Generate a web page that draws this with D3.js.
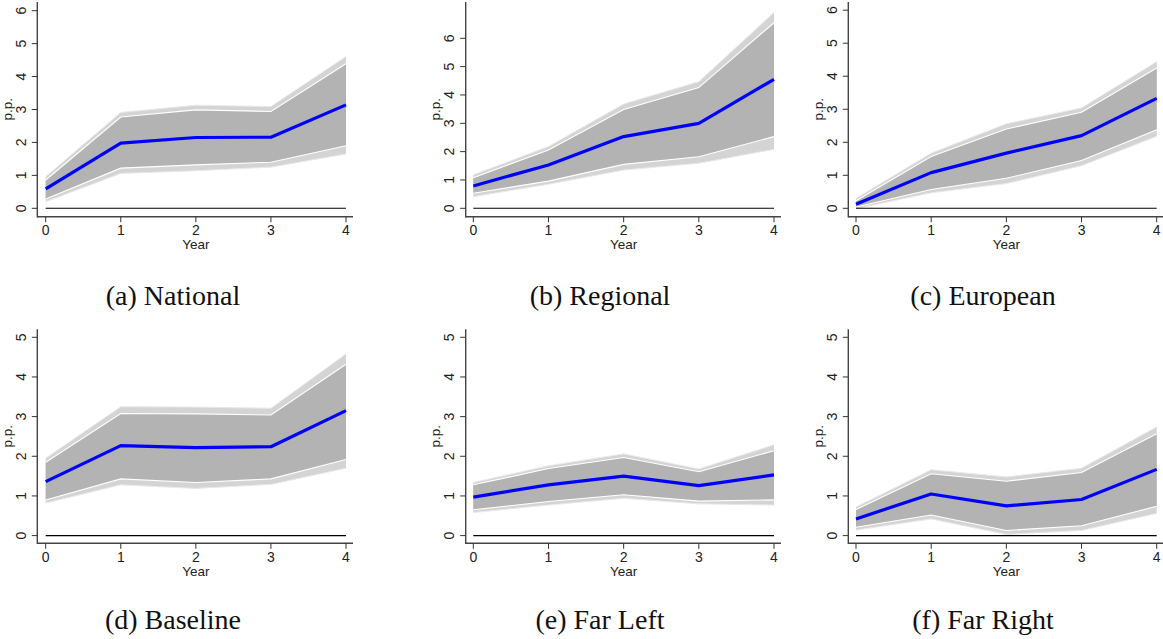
<!DOCTYPE html>
<html>
<head>
<meta charset="utf-8">
<script src="https://cdn.jsdelivr.net/npm/d3@7"></script>
<style>
  html, body { margin: 0; padding: 0; background: #fff; }
  svg { display: block; }
  .tick-label { font-family: "Liberation Sans", Arial, sans-serif; font-size: 14px; fill: #222; }
  .axis-title { font-family: "Liberation Sans", Arial, sans-serif; font-size: 13.5px; fill: #222; }
  .caption { font-family: "Liberation Serif", "Times New Roman", serif; font-size: 28px; fill: #111; }
</style>
</head>
<body>
<svg id="chart" width="1163" height="639"></svg>
<script>
// Horizon (years after the event)
const years = [0, 1, 2, 3, 4];

// Panel titles
const captions = ["(a) National", "(b) Regional", "(c) European", "(d) Baseline", "(e) Far Left", "(f) Far Right"];

// Y tick labels per panel
const yTicksTop6 = [0, 1, 2, 3, 4, 5, 6];
const yTicksBottom5 = [0, 1, 2, 3, 4, 5];

// (a) National: point estimate, inner band, outer band (p.p.)
const nationalMean    = [0.59, 1.98, 2.15, 2.16, 3.14];
const nationalInnerLo = [0.28, 1.22, 1.32, 1.40, 1.90];
const nationalInnerHi = [0.86, 2.77, 2.99, 2.94, 4.39];
const nationalOuterLo = [0.20, 1.06, 1.14, 1.25, 1.65];
const nationalOuterHi = [0.96, 2.91, 3.13, 3.09, 4.61];

// (b) Regional
const regionalMean    = [0.79, 1.53, 2.53, 3.00, 4.55];
const regionalInnerLo = [0.53, 0.96, 1.55, 1.82, 2.53];
const regionalInnerHi = [1.08, 2.06, 3.49, 4.26, 6.55];
const regionalOuterLo = [0.41, 0.85, 1.35, 1.59, 2.08];
const regionalOuterHi = [1.18, 2.18, 3.68, 4.47, 6.91];

// (c) European
const europeanMean    = [0.12, 1.08, 1.67, 2.20, 3.33];
const europeanInnerLo = [0.04, 0.57, 0.91, 1.45, 2.38];
const europeanInnerHi = [0.23, 1.57, 2.40, 2.91, 4.25];
const europeanOuterLo = [-0.01, 0.47, 0.75, 1.29, 2.18];
const europeanOuterHi = [0.30, 1.67, 2.56, 3.04, 4.44];

// (d) Baseline
const baselineMean    = [1.36, 2.27, 2.22, 2.24, 3.15];
const baselineInnerLo = [0.90, 1.43, 1.34, 1.43, 1.92];
const baselineInnerHi = [1.85, 3.08, 3.07, 3.04, 4.32];
const baselineOuterLo = [0.82, 1.28, 1.19, 1.29, 1.70];
const baselineOuterHi = [1.95, 3.25, 3.24, 3.21, 4.58];

// (e) Far Left
const farLeftMean    = [0.97, 1.28, 1.50, 1.26, 1.53];
const farLeftInnerLo = [0.65, 0.86, 1.03, 0.87, 0.90];
const farLeftInnerHi = [1.28, 1.69, 1.97, 1.61, 2.14];
const farLeftOuterLo = [0.58, 0.77, 0.94, 0.80, 0.77];
const farLeftOuterHi = [1.34, 1.76, 2.06, 1.68, 2.29];

// (f) Far Right
const farRightMean    = [0.42, 1.05, 0.75, 0.91, 1.67];
const farRightInnerLo = [0.21, 0.52, 0.13, 0.25, 0.74];
const farRightInnerHi = [0.66, 1.56, 1.37, 1.59, 2.57];
const farRightOuterLo = [0.14, 0.42, 0.03, 0.13, 0.56];
const farRightOuterHi = [0.72, 1.66, 1.48, 1.70, 2.74];

const seriesByPanel = [
  [nationalMean, nationalInnerLo, nationalInnerHi, nationalOuterLo, nationalOuterHi],
  [regionalMean, regionalInnerLo, regionalInnerHi, regionalOuterLo, regionalOuterHi],
  [europeanMean, europeanInnerLo, europeanInnerHi, europeanOuterLo, europeanOuterHi],
  [baselineMean, baselineInnerLo, baselineInnerHi, baselineOuterLo, baselineOuterHi],
  [farLeftMean, farLeftInnerLo, farLeftInnerHi, farLeftOuterLo, farLeftOuterHi],
  [farRightMean, farRightInnerLo, farRightInnerHi, farRightOuterLo, farRightOuterHi]
];
const tickSets = [yTicksTop6, yTicksTop6, yTicksTop6, yTicksBottom5, yTicksBottom5, yTicksBottom5];

// Layout of each panel: y axis position, x range, y range for the tick extent
const colAxisX = [37.3, 465.7, 848.3];
const colX0 = [45.7, 473.3, 856.0];
const colX4 = [346.0, 774.0, 1156.7];
const captionCx = [173, 600, 983];
const rows = [
  { axisTop: 2,     axisY: 216.7, zeroY: 208.3, captionY: 305 },
  { axisTop: 329.3, axisY: 543.3, zeroY: 535.6, captionY: 629 }
];
const topTickY = [10.7, 38.3, 10.2, 337.3, 337.3, 337.3];

const svg = d3.select("#chart");

seriesByPanel.forEach((series, i) => {
  const col = i % 3, row = rows[Math.floor(i / 3)];
  const ticks = tickSets[i];
  const [mean, innerLo, innerHi, outerLo, outerHi] = series;

  const x = d3.scaleLinear().domain([0, 4]).range([colX0[col], colX4[col]]);
  const y = d3.scaleLinear().domain([0, d3.max(ticks)]).range([row.zeroY, topTickY[i]]);

  const g = svg.append("g");
  const rowsData = years.map((yr, k) => ({ yr, m: mean[k], il: innerLo[k], ih: innerHi[k], ol: outerLo[k], oh: outerHi[k] }));

  const area = (lo, hi) => d3.area().x(d => x(d.yr)).y0(d => y(d[lo])).y1(d => y(d[hi]));
  const line = key => d3.line().x(d => x(d.yr)).y(d => y(d[key]));

  // outer band
  g.append("path").datum(rowsData).attr("d", area("ol", "oh")).attr("fill", "#d4d4d4");
  ["ol", "oh"].forEach(k => g.append("path").datum(rowsData).attr("d", line(k))
    .attr("fill", "none").attr("stroke", "#e9e9e9").attr("stroke-width", 1));
  // inner band
  g.append("path").datum(rowsData).attr("d", area("il", "ih")).attr("fill", "#b3b3b3");
  ["il", "ih"].forEach(k => g.append("path").datum(rowsData).attr("d", line(k))
    .attr("fill", "none").attr("stroke", "#ffffff").attr("stroke-width", 1.1));

  // zero reference line
  g.append("line").attr("x1", x(0)).attr("x2", x(4)).attr("y1", y(0)).attr("y2", y(0))
    .attr("stroke", "#000").attr("stroke-width", 1.1);

  // point estimate
  g.append("path").datum(rowsData).attr("d", line("m"))
    .attr("fill", "none").attr("stroke", "#0000ff").attr("stroke-width", 3.2)
    .attr("stroke-linejoin", "round");

  // y axis
  const axisX = colAxisX[col];
  g.append("line").attr("x1", axisX).attr("x2", axisX).attr("y1", row.axisTop).attr("y2", row.axisY + 0.7)
    .attr("stroke", "#444").attr("stroke-width", 1.4);
  ticks.forEach(t => {
    g.append("line").attr("x1", axisX - 5.5).attr("x2", axisX).attr("y1", y(t)).attr("y2", y(t))
      .attr("stroke", "#333").attr("stroke-width", 1);
    g.append("text").attr("class", "tick-label")
      .attr("transform", `translate(${axisX - 11.3},${y(t)}) rotate(-90)`)
      .attr("text-anchor", "middle").text(t);
  });
  g.append("text").attr("class", "axis-title")
    .attr("transform", `translate(${axisX - 25.3},${(row.axisTop + row.axisY) / 2}) rotate(-90)`)
    .attr("text-anchor", "middle").text("p.p.");

  // x axis
  g.append("line").attr("x1", axisX).attr("x2", x(4) + 7).attr("y1", row.axisY).attr("y2", row.axisY)
    .attr("stroke", "#444").attr("stroke-width", 1.4);
  years.forEach(t => {
    g.append("line").attr("x1", x(t)).attr("x2", x(t)).attr("y1", row.axisY).attr("y2", row.axisY + 5.5)
      .attr("stroke", "#333").attr("stroke-width", 1);
    g.append("text").attr("class", "tick-label")
      .attr("x", x(t)).attr("y", row.axisY + 18.6).attr("text-anchor", "middle").text(t);
  });
  g.append("text").attr("class", "axis-title")
    .attr("x", (x(0) + x(4)) / 2).attr("y", row.axisY + 32.3).attr("text-anchor", "middle").text("Year");

  // caption
  svg.append("text").attr("class", "caption")
    .attr("x", captionCx[col]).attr("y", row.captionY).attr("text-anchor", "middle").text(captions[i]);
});
</script>
</body>
</html>
